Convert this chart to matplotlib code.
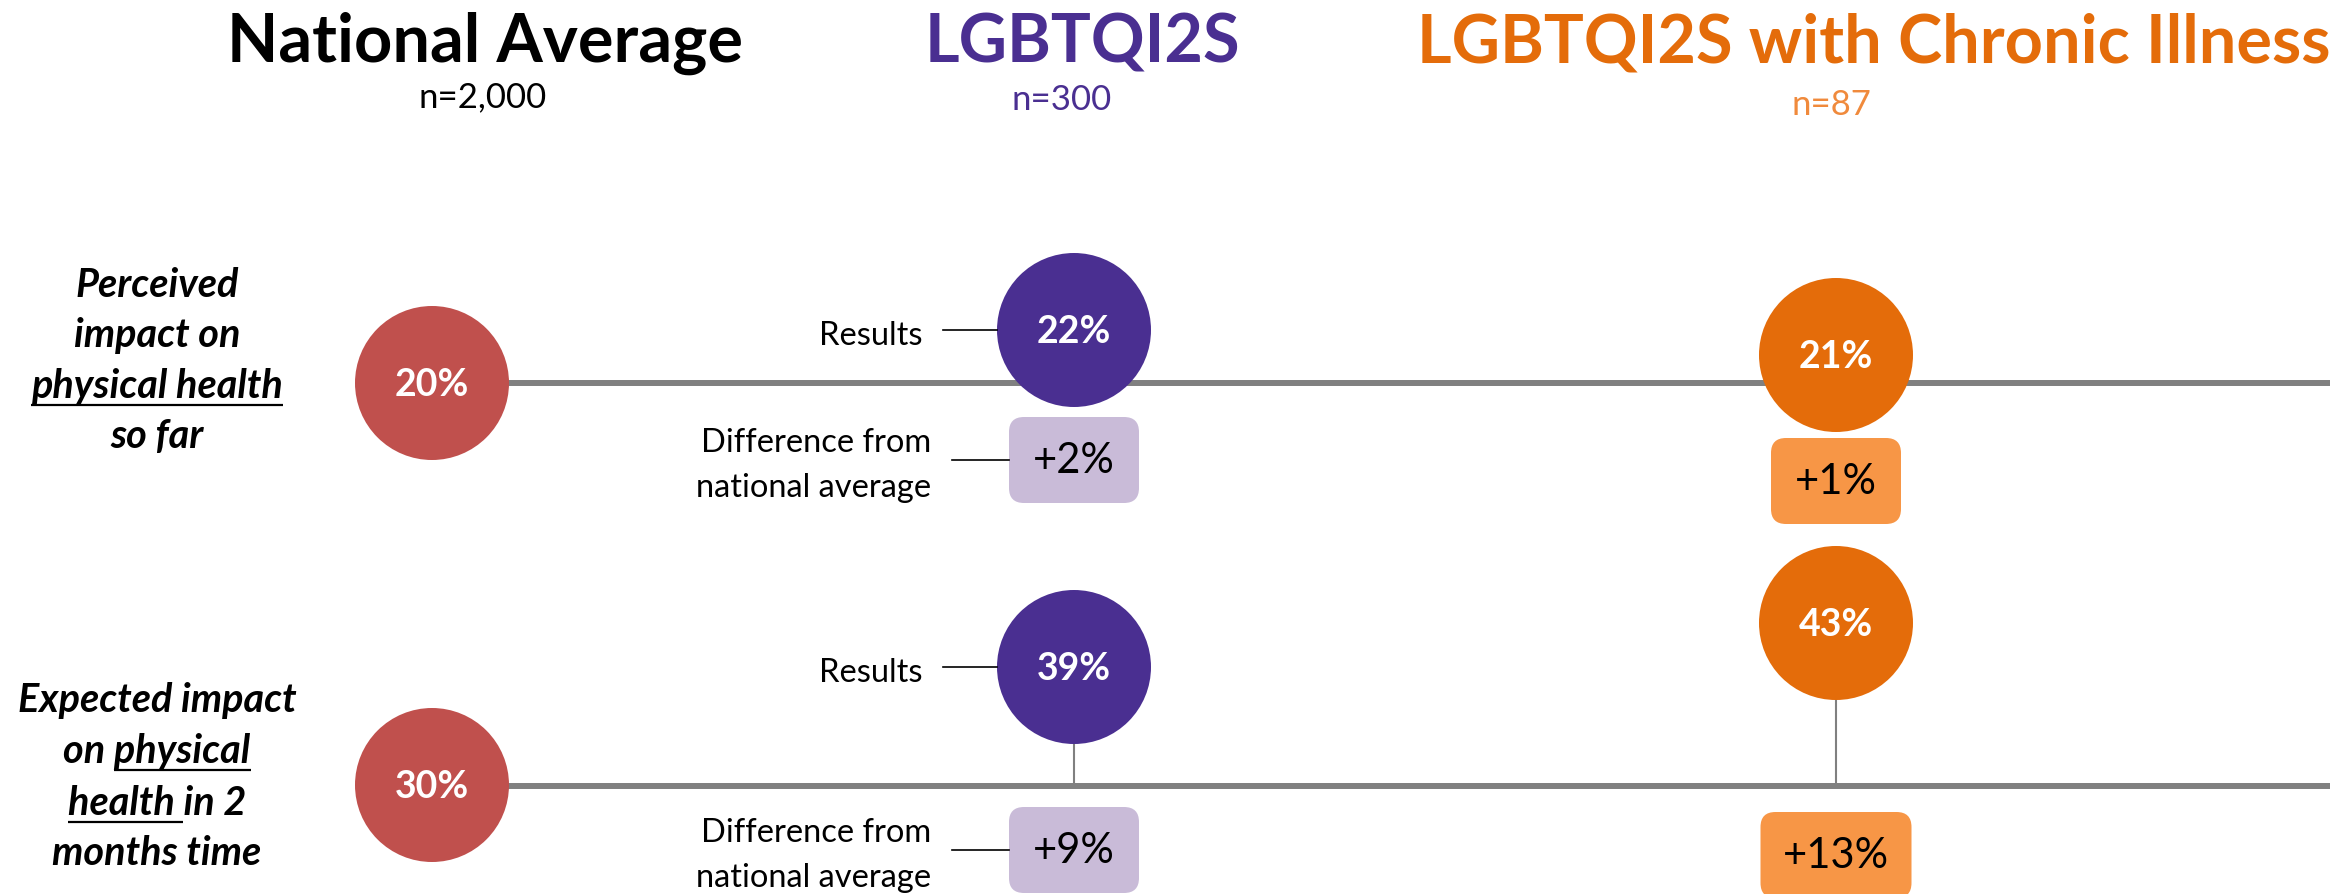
import matplotlib
matplotlib.use("Agg")
import matplotlib.pyplot as plt
from matplotlib.patches import Circle, FancyBboxPatch

# ---- data ----
groups = ["National Average", "LGBTQI2S", "LGBTQI2S with Chronic Illness"]
group_n = ["n=2,000", "n=300", "n=87"]
row_labels = [
    [("Perceived", None), ("impact on", None), ("physical health", "all"), ("so far", None)],
    [("Expected impact", None), ("on physical", "physical"), ("health in 2", "health "), ("months time", None)],
]
national = [20, 30]
lgbt = [22, 39]
lgbt_chronic = [21, 43]

# ---- layout (pixels, figure is 2343 x 895) ----
W, H = 2343, 895
col_x = [432, 1074, 1836]
title_x = [485, 1082, 1874]
n_x = [483, 1062, 1831]
n_base = [107, 110, 115]
line_y = [384, 787]
circle_y = [[384, 331, 356], [786, 668, 624]]
box_y = [[None, 461, 482], [None, 851, 856]]
radius = 77
label_x = 157
label_base = [[297, 347, 398, 448], [712, 763, 815, 865]]

purple = "#4A2F91"
orange = "#E46C0A"
red = "#C0504D"
purple_light = "#C9BBD8"
orange_light = "#F79646"
grey = "#808080"
col_colors = [red, purple, orange]
box_colors = [None, purple_light, orange_light]
title_colors = ["black", purple, orange]
n_colors = ["black", purple, "#F08A3C"]

plt.rcParams["font.family"] = ["Lato", "DejaVu Sans"]

fig = plt.figure(figsize=(W / 100, H / 100), dpi=100)
ax = fig.add_axes([0, 0, 1, 1])
ax.set_xlim(0, W)
ax.set_ylim(H, 0)
ax.axis("off")
renderer = fig.canvas.get_renderer()


def text_width(s, **kw):
    t = ax.text(0, 0, s, **kw)
    w = t.get_window_extent(renderer).width
    t.remove()
    return w


# titles
for i, g in enumerate(groups):
    ax.text(title_x[i], 62, g, ha="center", va="baseline", fontsize=48,
            fontweight="bold", color=title_colors[i])
    ax.text(n_x[i], n_base[i], group_n[i], ha="center", va="baseline",
            fontsize=25, color=n_colors[i])

# row labels with underlines
lab_kw = dict(fontsize=28.5, fontweight="bold", style="italic")
for r, lines in enumerate(row_labels):
    for k, (s, ul) in enumerate(lines):
        yb = label_base[r][k]
        t = ax.text(label_x, yb, s, ha="center", va="baseline", color="black", **lab_kw)
        if ul is None:
            continue
        bb = t.get_window_extent(renderer)
        x0, x1 = bb.x0, bb.x1
        if ul == "physical":
            x0 = x1 - text_width("physical", **lab_kw)
        elif ul == "health ":
            x1 = x0 + text_width("health", **lab_kw) + text_width("a a", **lab_kw) - text_width("aa", **lab_kw)
        ax.plot([x0, x1], [yb + 8, yb + 8], color="black", lw=1.6, solid_capstyle="butt", zorder=3)

values = [national, lgbt, lgbt_chronic]
for r in range(2):
    # horizontal axis line
    ax.plot([col_x[0], 2330], [line_y[r], line_y[r]], color=grey, lw=4.3,
            solid_capstyle="butt", zorder=1)
    for c in range(3):
        v = values[c][r]
        cy = circle_y[r][c]
        if c > 0:
            ax.plot([col_x[c], col_x[c]], [cy, line_y[r]], color=grey, lw=1.5, zorder=1)
        ax.add_patch(Circle((col_x[c], cy), radius, facecolor=col_colors[c],
                            edgecolor="none", zorder=2))
        ax.text(col_x[c], cy + 1, f"{v}%", ha="center", va="center", fontsize=27,
                fontweight="bold", color="white", zorder=3)
        if c == 0:
            continue
        diff = v - national[r]
        s = f"+{diff}%" if diff >= 0 else f"{diff}%"
        bw = 130 if abs(diff) < 10 else 151
        bh = 86
        by = box_y[r][c]
        ax.add_patch(FancyBboxPatch((col_x[c] - bw / 2, by - bh / 2), bw, bh,
                                    boxstyle="round,pad=0,rounding_size=15",
                                    facecolor=box_colors[c], edgecolor="none", zorder=2))
        ax.text(col_x[c], by, s, ha="center", va="center", fontsize=30,
                color="black", zorder=3)

    # annotation labels for the LGBTQI2S column
    cy = circle_y[r][1]
    by = box_y[r][1]
    ax.text(923, cy + 14, "Results", ha="right", va="baseline", fontsize=23.5)
    ax.plot([943, col_x[1] - radius], [cy, cy], color="black", lw=1.2)
    ax.text(931, by - 9, "Difference from", ha="right", va="baseline", fontsize=23.5)
    ax.text(931, by + 36, "national average", ha="right", va="baseline", fontsize=23.5)
    ax.plot([952, col_x[1] - 65], [by, by], color="black", lw=1.2)

fig.savefig("out.png", dpi=100)
